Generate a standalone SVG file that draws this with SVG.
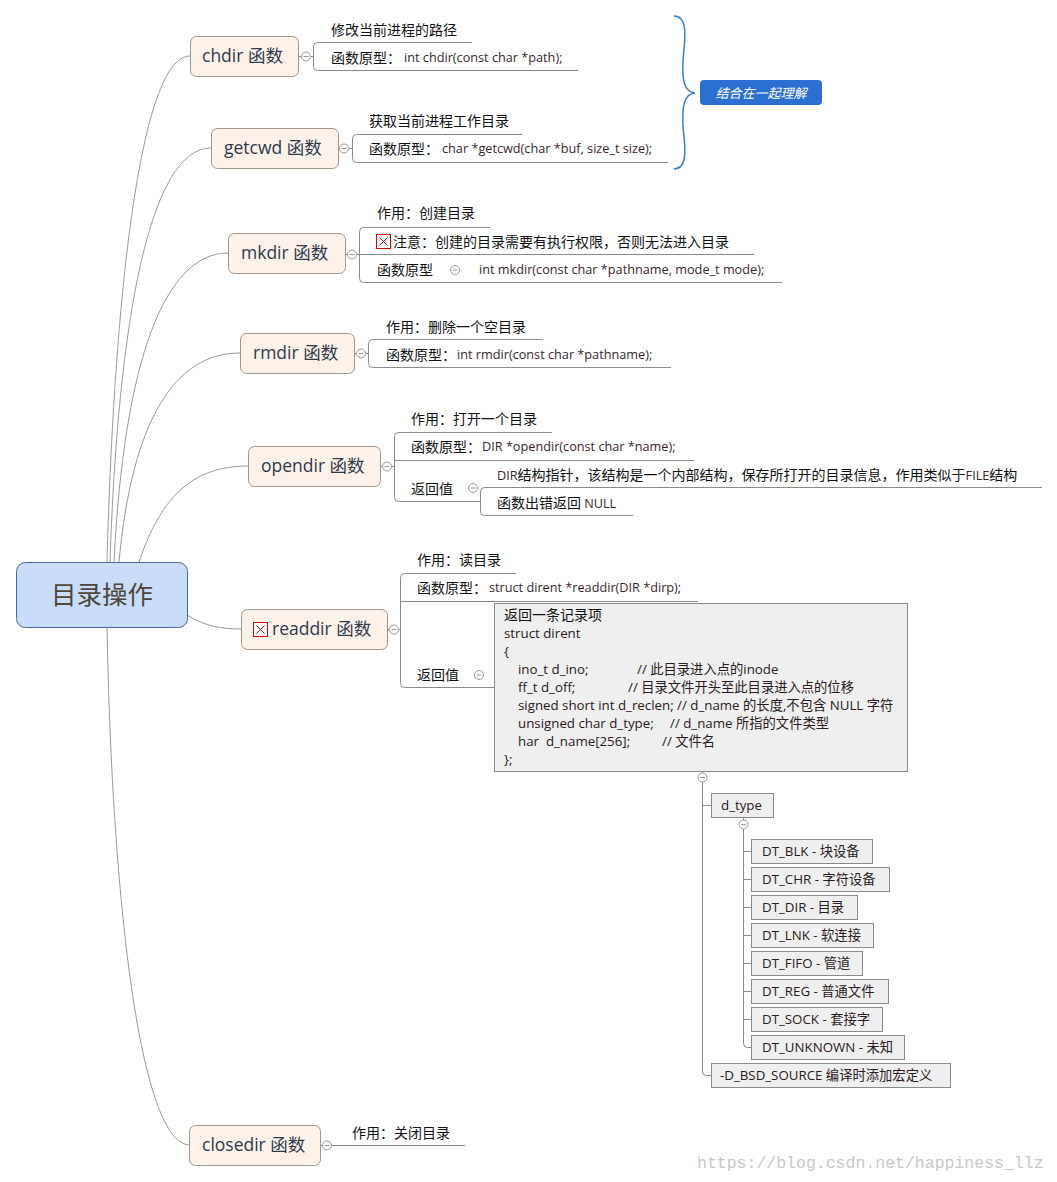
<svg xmlns="http://www.w3.org/2000/svg" width="1057" height="1182" viewBox="0 0 1057 1182">
<style>
.bg{fill:#fff}
.node rect{fill:#fdf2e9;stroke:#a3968a;stroke-width:1}
.nt{font-family:"Open Sans","Noto Sans CJK SC",sans-serif;font-size:17.5px;fill:#2f3a4d}
.t{font-family:"Noto Sans CJK SC","Open Sans",sans-serif;font-size:14px;fill:#111}
.c{font-family:"Open Sans","Noto Sans CJK SC",sans-serif;font-size:12.7px;fill:#3a1f2c}
.s{font-family:"Open Sans","Noto Sans CJK SC",sans-serif;font-size:13.3px;fill:#2a1a22;white-space:pre}
.ln{stroke:#8a8a8a;stroke-width:1;fill:none}
.conn{stroke:#9a9a9a;stroke-width:1;fill:none}
.tog circle{fill:#fff;stroke:#9a9a9a;stroke-width:1}
.tog line{stroke:#9a9a9a;stroke-width:1}
.box{fill:#efefef;stroke:#8a8a8a;stroke-width:1}
.ico rect{fill:#fff;stroke:#e00000;stroke-width:1}
.ico line{stroke:#e00000;stroke-width:1}
</style>
<defs>
<g id="tg" class="tog"><circle cx="0" cy="0" r="4.5"/><line x1="-2.5" y1="0" x2="2.5" y2="0"/></g>
<g id="ic" class="ico"><rect x="0.5" y="0.5" width="14" height="14"/><line x1="3.5" y1="3.5" x2="11.5" y2="11.5"/><line x1="11.5" y1="3.5" x2="3.5" y2="11.5"/></g>
</defs>
<rect class="bg" x="0" y="0" width="1057" height="1182"/>

<g id="connectors">
<path class="conn" d="M107,562 C114,300 140,56 190,56"/>
<path class="conn" d="M110,562 C118,320 150,148 211,148"/>
<path class="conn" d="M114,562 C124,360 165,253 228,253"/>
<path class="conn" d="M119,562 C132,420 175,353 240,353"/>
<path class="conn" d="M139,562 C160,500 190,466 248,466"/>
<path class="conn" d="M187,615 C205,626 220,629 241,629"/>
<path class="conn" d="M107,627 C112,900 140,1145 190,1145"/>
</g>

<g id="root">
<rect x="16.5" y="562.5" width="171" height="65" rx="9" fill="#c9ddfb" stroke="#4a6794"/>
<text x="102" y="604" text-anchor="middle" font-family="Noto Sans CJK SC,sans-serif" font-size="25.5" fill="#4e4638">目录操作</text>
</g>

<g id="chdir">
<g class="node"><rect x="190.5" y="36.5" width="108" height="40" rx="6"/></g>
<text class="nt" x="202" y="62">chdir 函数</text>
<path class="ln" d="M298,56.5 H302 M310.5,56.5 H313.5 M472,42.5 H317.5 Q313.5,42.5 313.5,46.5 V66.5 Q313.5,70.5 317.5,70.5 H578"/>
<use href="#tg" x="306" y="56.5"/>
<text class="t" x="331" y="35">修改当前进程的路径</text>
<text class="t" x="331" y="63">函数原型：</text>
<text class="c" x="404" y="62">int chdir(const char *path);</text>
</g>

<g id="getcwd">
<g class="node"><rect x="211.5" y="128.5" width="127" height="40" rx="6"/></g>
<text class="nt" x="224" y="154">getcwd 函数</text>
<path class="ln" d="M338,148.5 H340 M348.5,148.5 H352.5 M522,134.5 H356.5 Q352.5,134.5 352.5,138.5 V158.5 Q352.5,162.5 356.5,162.5 H668"/>
<use href="#tg" x="344" y="148.5"/>
<text class="t" x="369" y="126">获取当前进程工作目录</text>
<text class="t" x="369" y="154">函数原型：</text>
<text class="c" x="442" y="153">char *getcwd(char *buf, size_t size);</text>
</g>

<g id="brace">
<path d="M674,16 C690,16 684,45 683,60 C682,80 684,92 695,93 C684,94 682,106 683,126 C684,141 690,169 674,169" fill="none" stroke="#3b7ad6" stroke-width="1.5"/>
<rect x="700" y="80" width="122" height="25" rx="4" fill="#2c6fd2"/>
<text x="761" y="97.5" text-anchor="middle" font-family="Noto Sans CJK SC,sans-serif" font-size="13" font-style="italic" fill="#fff">结合在一起理解</text>
</g>

<g id="mkdir">
<g class="node"><rect x="228.5" y="233.5" width="117" height="40" rx="6"/></g>
<text class="nt" x="241" y="259">mkdir 函数</text>
<path class="ln" d="M345,254.5 H348 M356.5,254.5 H359.5 M490,227.5 H363.5 Q359.5,227.5 359.5,231.5 V278.5 Q359.5,282.5 363.5,282.5 H782 M359.5,254.5 H754"/>
<use href="#tg" x="352" y="254.5"/>
<text class="t" x="377" y="218">作用：创建目录</text>
<use href="#ic" x="376" y="234"/>
<text class="t" x="393" y="247">注意：创建的目录需要有执行权限，否则无法进入目录</text>
<text class="t" x="377" y="275">函数原型</text>
<use href="#tg" x="455" y="270"/>
<text class="c" x="479" y="274">int mkdir(const char *pathname, mode_t mode);</text>
</g>

<g id="rmdir">
<g class="node"><rect x="240.5" y="333.5" width="114" height="40" rx="6"/></g>
<text class="nt" x="253" y="359">rmdir 函数</text>
<path class="ln" d="M354,353.5 H356.5 M365,353.5 H368.5 M543,339.5 H372.5 Q368.5,339.5 368.5,343.5 V363.5 Q368.5,367.5 372.5,367.5 H671"/>
<use href="#tg" x="361" y="353.5"/>
<text class="t" x="386" y="332">作用：删除一个空目录</text>
<text class="t" x="386" y="360">函数原型：</text>
<text class="c" x="457" y="359">int rmdir(const char *pathname);</text>
</g>

<g id="opendir">
<g class="node"><rect x="248.5" y="446.5" width="132" height="40" rx="6"/></g>
<text class="nt" x="261" y="472">opendir 函数</text>
<path class="ln" d="M380,466.5 H382.5 M391,466.5 H394.5 M552,432.5 H398.5 Q394.5,432.5 394.5,436.5 V497.5 Q394.5,501.5 398.5,501.5 H480.5 M394.5,460.5 H694"/>
<use href="#tg" x="387" y="466.5"/>
<text class="t" x="411" y="424">作用：打开一个目录</text>
<text class="t" x="411" y="452">函数原型：</text>
<text class="c" x="482" y="451">DIR *opendir(const char *name);</text>
<text class="t" x="411" y="494">返回值</text>
<use href="#tg" x="473" y="488"/>
<path class="ln" d="M1042,487.5 H484.5 Q480.5,487.5 480.5,491.5 V511.5 Q480.5,515.5 484.5,515.5 H633"/>
<text class="t" x="497" y="480"><tspan class="c">DIR</tspan>结构指针，该结构是一个内部结构，保存所打开的目录信息，作用类似于<tspan class="c">FILE</tspan>结构</text>
<text class="t" x="497" y="508">函数出错返回 <tspan class="c">NULL</tspan></text>
</g>

<g id="readdir">
<g class="node"><rect x="241.5" y="609.5" width="146" height="40" rx="6"/></g>
<use href="#ic" x="253" y="622"/>
<text class="nt" x="272" y="635">readdir 函数</text>
<path class="ln" d="M387,629.5 H389.5 M398,629.5 H400.5 M516,573.5 H404.5 Q400.5,573.5 400.5,577.5 V683.5 Q400.5,687.5 404.5,687.5 H494 M400.5,601.5 H698"/>
<use href="#tg" x="394" y="629.5"/>
<text class="t" x="417" y="565">作用：读目录</text>
<text class="t" x="417" y="593">函数原型：</text>
<text class="c" x="489" y="592">struct dirent *readdir(DIR *dirp);</text>
<text class="t" x="417" y="680">返回值</text>
<use href="#tg" x="479" y="675"/>
</g>

<g id="struct">
<rect class="box" x="494.5" y="603.5" width="413" height="168"/>
<text class="t" x="504" y="620">返回一条记录项</text>
<text class="s" x="504" y="638">struct dirent</text>
<text class="s" x="504" y="656">{</text>
<text class="s" x="518" y="674">ino_t d_ino;</text>
<text class="s" x="637" y="674">// 此目录进入点的inode</text>
<text class="s" x="518" y="692">ff_t d_off;</text>
<text class="s" x="628" y="692">// 目录文件开头至此目录进入点的位移</text>
<text class="s" x="518" y="710">signed short int d_reclen; // d_name 的长度,不包含 NULL 字符</text>
<text class="s" x="518" y="728">unsigned char d_type;</text>
<text class="s" x="670" y="728">// d_name 所指的文件类型</text>
<text class="s" x="518" y="746">har  d_name[256];</text>
<text class="s" x="662" y="746">// 文件名</text>
<text class="s" x="504" y="764">};</text>
</g>

<g id="tree-lines">
<path class="ln" d="M702.5,771.5 V773 M702.5,782 V1071.5 Q702.5,1075.5 706.5,1075.5 H711 M702.5,805.5 H711"/>
<use href="#tg" x="702.5" y="777.5"/>
<path class="ln" d="M743.5,817.5 V820 M743.5,829 V1043.5 Q743.5,1047.5 747.5,1047.5 H751 M743.5,851.5 H751 M743.5,879.5 H751 M743.5,907.5 H751 M743.5,935.5 H751 M743.5,963.5 H751 M743.5,991.5 H751 M743.5,1019.5 H751"/>
<use href="#tg" x="743.5" y="824.5"/>
</g>

<g id="d_type">
<rect class="box" x="711.5" y="793.5" width="62" height="24"/>
<text class="s" x="721" y="810">d_type</text>
</g>
<g id="dt_blk"><rect class="box" x="751.5" y="839.5" width="121" height="24"/><text class="s" x="762" y="856">DT_BLK - 块设备</text></g>
<g id="dt_chr"><rect class="box" x="751.5" y="867.5" width="138" height="24"/><text class="s" x="762" y="884">DT_CHR - 字符设备</text></g>
<g id="dt_dir"><rect class="box" x="751.5" y="895.5" width="106" height="24"/><text class="s" x="762" y="912">DT_DIR - 目录</text></g>
<g id="dt_lnk"><rect class="box" x="751.5" y="923.5" width="122" height="24"/><text class="s" x="762" y="940">DT_LNK - 软连接</text></g>
<g id="dt_fifo"><rect class="box" x="751.5" y="951.5" width="111" height="24"/><text class="s" x="762" y="968">DT_FIFO - 管道</text></g>
<g id="dt_reg"><rect class="box" x="751.5" y="979.5" width="137" height="24"/><text class="s" x="762" y="996">DT_REG - 普通文件</text></g>
<g id="dt_sock"><rect class="box" x="751.5" y="1007.5" width="131" height="24"/><text class="s" x="762" y="1024">DT_SOCK - 套接字</text></g>
<g id="dt_unknown"><rect class="box" x="751.5" y="1035.5" width="153" height="24"/><text class="s" x="762" y="1052">DT_UNKNOWN - 未知</text></g>
<g id="bsd"><rect class="box" x="711.5" y="1063.5" width="239" height="24"/><text class="s" x="720" y="1080">-D_BSD_SOURCE 编译时添加宏定义</text></g>

<g id="closedir">
<g class="node"><rect x="189.5" y="1125.5" width="131" height="40" rx="6"/></g>
<text class="nt" x="202" y="1151">closedir 函数</text>
<path class="ln" d="M320,1145.5 H322.5 M331,1145.5 H465"/>
<use href="#tg" x="327" y="1145.5"/>
<text class="t" x="352" y="1138">作用：关闭目录</text>
</g>

<text x="697" y="1168" font-family="Liberation Mono,monospace" font-size="16.5" fill="#c8c8c8">https://blog.csdn.net/happiness_llz</text>
</svg>
